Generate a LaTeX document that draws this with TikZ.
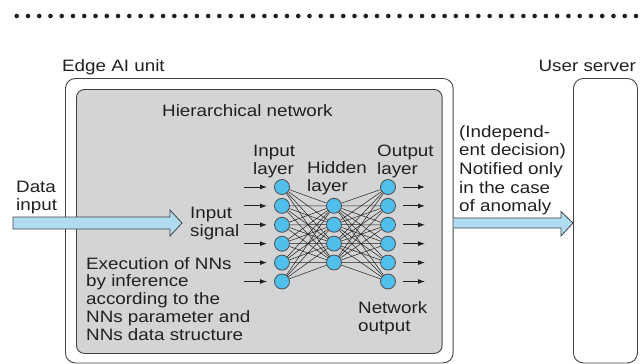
\documentclass[tikz,border=0pt]{standalone}
\usepackage{fontspec}
\setmainfont{Liberation Sans}[FakeStretch=1.14]
\usetikzlibrary{arrows.meta,calc}
\definecolor{ink}{HTML}{231F20}
\definecolor{boxgray}{HTML}{D3D4D6}
\definecolor{nodeblue}{HTML}{50BFEC}
\definecolor{arrowblue}{HTML}{B0DCF2}
\begin{document}
\begin{tikzpicture}[x=1pt,y=-1pt,
  txt/.style={font=\fontsize{16.5}{18}\selectfont, text=ink, inner sep=0pt, align=left, anchor=base west},
  neuron/.style={circle, minimum size=15pt, inner sep=0pt, fill=nodeblue, draw=ink!80, line width=0.8pt},
  sarrow/.style={-{Latex[length=7pt,width=5pt]}, line width=0.9pt, draw=ink},
  link/.style={line width=0.5pt, draw=ink},
  bigarrow/.style={fill=arrowblue, draw=ink!85, line width=0.8pt},
  frame/.style={draw=ink!85, line width=0.9pt, inner sep=0pt, anchor=north west}]
\useasboundingbox (0,0) rectangle (641,364);
% dotted rule
\foreach \i in {0,...,54} \fill[ink] ({16.7+11.26*\i},16) circle (2.3pt);
\fill[ink] (636,16) circle (2.3pt);
% boxes
\node[frame, rounded corners=10pt, minimum width=387.7pt, minimum height=284.5pt] (edge) at (65,78) {};
\node[frame, fill=boxgray, rounded corners=8pt, minimum width=365.7pt, minimum height=264pt] (hbox) at (76,89) {};
\node[frame, rounded corners=10pt, minimum width=64pt, minimum height=284.5pt] (server) at (573,78) {};
% big arrows
\coordinate (din) at (13,223);
\coordinate (dtip) at (182,223);
\draw[bigarrow] ($(din)+(0,-6)$) -- ($(dtip)+(-12,-6)$) -- ($(dtip)+(-12,-13)$) -- (dtip)
  -- ($(dtip)+(-12,13)$) -- ($(dtip)+(-12,6)$) -- ($(din)+(0,6)$) -- cycle;
\coordinate (oin) at (edge.east |- 0,223);
\coordinate (otip) at (server.west |- 0,223);
\fill[arrowblue] ($(oin)+(0,-5)$) -- ($(otip)+(-12,-5)$) -- ($(otip)+(-12,-11.5)$) -- (otip)
  -- ($(otip)+(-12,13)$) -- ($(otip)+(-12,5)$) -- ($(oin)+(0,5)$) -- cycle;
\draw[draw=ink!85, line width=0.8pt] ($(oin)+(0,-5)$) -- ($(otip)+(-12,-5)$) -- ($(otip)+(-12,-11.5)$) -- (otip)
  -- ($(otip)+(-12,13)$) -- ($(otip)+(-12,5)$) -- ($(oin)+(0,5)$);
% neurons
\foreach \k in {1,...,6} \node[neuron] (i\k) at (282,{168.1+18.9*\k}) {};
\foreach \k in {1,...,4} \node[neuron] (h\k) at (334,{186.9+18.9*\k}) {};
\foreach \k in {1,...,6} \node[neuron] (o\k) at (388,{168.1+18.9*\k}) {};
\foreach \a in {1,...,6} \foreach \b in {1,...,4} {
  \draw[link] (i\a) -- (h\b);
  \draw[link] (h\b) -- (o\a);
}
\foreach \k in {1,...,6} {
  \draw[sarrow] ([xshift=-38pt]i\k.center) -- ([xshift=-15pt]i\k.center);
  \draw[sarrow] ([xshift=15pt]o\k.center) -- ([xshift=37pt]o\k.center);
}
% labels (base anchor = baseline of the last line)
\node[txt] (edgelbl) at (62,71) {Edge AI unit};
\node[txt, anchor=base east] (srvlbl) at (636,71) {User server};
\node[txt] (hier) at (162,116.7) {Hierarchical network};
\node[txt] (data) at (16,210) {Data\\input};
\node[txt] (insig) at (190,236) {Input\\signal};
\node[txt, font=\fontsize{16.5}{17.9}\selectfont] (exec) at (86,340.6) {Execution of NNs\\by inference\\according to the\\NNs parameter and\\NNs data structure};
\node[txt] (inl) at (253,174) {Input\\layer};
\node[txt] (hidl) at (307,191) {Hidden\\layer};
\node[txt] (outl) at (377,174) {Output\\layer};
\node[txt] (netout) at (358,331) {Network\\output};
\node[txt, font=\fontsize{16.5}{18.6}\selectfont] (notif) at (459,211.7) {(Independ-\\ent decision)\\Notified only\\in the case\\of anomaly};
\end{tikzpicture}
\end{document}
